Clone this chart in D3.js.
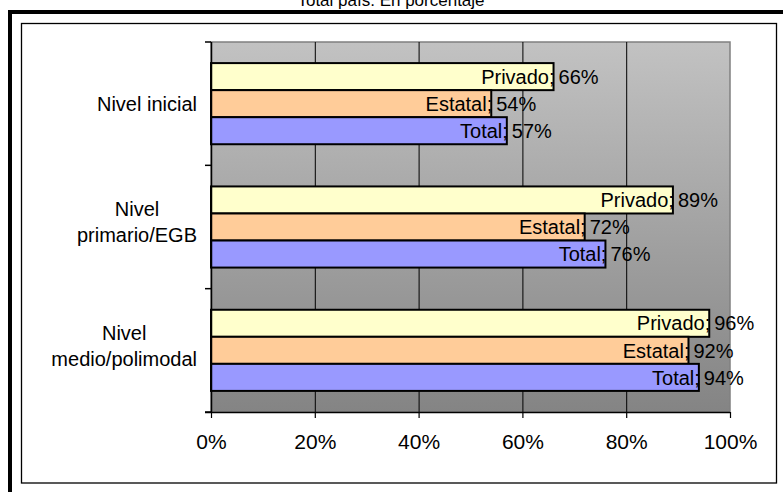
<!DOCTYPE html>
<html>
<head>
<meta charset="utf-8">
<script src="https://cdn.jsdelivr.net/npm/d3@7"></script>
<style>
  html, body { margin: 0; padding: 0; background: #fff; }
  svg { display: block; font-family: "Liberation Sans", Arial, sans-serif; }
</style>
</head>
<body>
<svg id="chart" width="783" height="492"></svg>
<script>
// Data
const categories = ["Nivel inicial", "Nivel primario/EGB", "Nivel medio/polimodal"];
const categoryLines = [["Nivel inicial"], ["Nivel", "primario/EGB"], ["Nivel", "medio/polimodal"]];
const series = ["Privado", "Estatal", "Total"];
const privado = [0.66, 0.89, 0.96];
const estatal = [0.54, 0.72, 0.92];
const total = [0.57, 0.76, 0.94];
const xTicks = [0, 0.2, 0.4, 0.6, 0.8, 1];
const title = "Total país. En porcentaje";

const colors = { Privado: "#ffffcc", Estatal: "#ffcc99", Total: "#9999ff" };
const values = { Privado: privado, Estatal: estatal, Total: total };

const svg = d3.select("#chart");

// frames
svg.append("rect")
  .attr("x", 10).attr("y", 12).attr("width", 800).attr("height", 500)
  .attr("fill", "none").attr("stroke", "#000").attr("stroke-width", 4);
svg.append("rect")
  .attr("x", 21.5).attr("y", 23.5).attr("width", 755).attr("height", 459.5)
  .attr("fill", "#fff").attr("stroke", "#000").attr("stroke-width", 1.3);

svg.append("text")
  .attr("x", 391).attr("y", 6)
  .attr("text-anchor", "middle")
  .attr("font-size", 17)
  .text(title);

const plot = { left: 211, right: 730, top: 42, bottom: 412 };

const x = d3.scaleLinear().domain([0, 1]).range([plot.left, plot.right]);
const y0 = d3.scaleBand().domain(categories).range([plot.top, plot.bottom]);
const y1 = d3.scaleBand().domain(series).range([0, y0.bandwidth()])
  .paddingInner(0).paddingOuter(0.78);

// background gradient
const grad = svg.append("defs").append("linearGradient")
  .attr("id", "bg").attr("x1", 0).attr("y1", 0).attr("x2", 0).attr("y2", 1);
grad.append("stop").attr("offset", "0%").attr("stop-color", "#c2c2c2");
grad.append("stop").attr("offset", "100%").attr("stop-color", "#848484");

svg.append("rect")
  .attr("x", plot.left).attr("y", plot.top)
  .attr("width", plot.right - plot.left).attr("height", plot.bottom - plot.top)
  .attr("fill", "url(#bg)")
  .attr("stroke", "#808080").attr("stroke-width", 1.5);

// gridlines
svg.append("g")
  .selectAll("line")
  .data(xTicks.slice(1, -1))
  .join("line")
  .attr("x1", d => x(d) + 0.5).attr("x2", d => x(d) + 0.5)
  .attr("y1", plot.top).attr("y2", plot.bottom)
  .attr("stroke", "#000").attr("stroke-width", 1);

// bars
const groups = svg.append("g")
  .selectAll("g")
  .data(categories)
  .join("g")
  .attr("transform", d => `translate(0,${y0(d)})`);

const barData = (c, i) => series.map(s => ({ s, v: values[s][i] }));

groups.selectAll("rect")
  .data(barData)
  .join("rect")
  .attr("x", x(0))
  .attr("y", d => y1(d.s))
  .attr("width", d => x(d.v) - x(0))
  .attr("height", y1.bandwidth())
  .attr("fill", d => colors[d.s])
  .attr("stroke", "#000").attr("stroke-width", 2);

// data labels
groups.selectAll("text.name")
  .data(barData)
  .join("text")
  .attr("class", "name")
  .attr("x", d => x(d.v) + 1)
  .attr("y", d => y1(d.s) + y1.bandwidth() / 2)
  .attr("dy", "0.36em")
  .attr("text-anchor", "end")
  .attr("font-size", 20)
  .text(d => d.s + ";");

groups.selectAll("text.val")
  .data(barData)
  .join("text")
  .attr("class", "val")
  .attr("x", d => x(d.v) + 5)
  .attr("y", d => y1(d.s) + y1.bandwidth() / 2)
  .attr("dy", "0.36em")
  .attr("text-anchor", "start")
  .attr("font-size", 20)
  .text(d => d3.format(".0%")(d.v));

// left axis
svg.append("line")
  .attr("x1", plot.left + 0.5).attr("x2", plot.left + 0.5)
  .attr("y1", plot.top).attr("y2", plot.bottom)
  .attr("stroke", "#000").attr("stroke-width", 1.5);
const bounds = categories.map(c => y0(c)).concat([y0(categories[categories.length - 1]) + y0.bandwidth()]);
svg.append("g")
  .selectAll("line")
  .data(bounds)
  .join("line")
  .attr("x1", plot.left - 6).attr("x2", plot.left)
  .attr("y1", d => d).attr("y2", d => d)
  .attr("stroke", "#000").attr("stroke-width", 1.5);

// category labels
const catG = svg.append("g");
categories.forEach((c, i) => {
  const lines = categoryLines[i];
  const t = catG.append("text").attr("font-size", 20).attr("text-anchor", "middle");
  const cy = y0(c) + y0.bandwidth() / 2 - (lines.length > 1 ? 5 : 0);
  const lh = 26;
  const spans = lines.map((l, j) => t.append("tspan")
    .attr("y", cy + (j - (lines.length - 1) / 2) * lh)
    .attr("dy", "0.36em")
    .text(l));
  const maxW = d3.max(spans, s => s.node().getComputedTextLength());
  spans.forEach(s => s.attr("x", 197 - maxW / 2));
});

// bottom axis
const xAxis = svg.append("g")
  .attr("transform", `translate(0,${plot.bottom})`)
  .call(d3.axisBottom(x).tickValues(xTicks).tickFormat(d3.format(".0%"))
    .tickSize(6).tickPadding(16).tickSizeOuter(0));
xAxis.select(".domain").attr("stroke", "#000").attr("stroke-width", 1.5)
  .attr("d", `M${plot.left - 6},0.5H${plot.right}`);
xAxis.selectAll(".tick line").attr("stroke", "#000").attr("stroke-width", 1.2);
xAxis.selectAll(".tick text")
  .attr("font-size", 21)
  .attr("font-family", "Liberation Sans, Arial, sans-serif")
  .attr("fill", "#000");
</script>
</body>
</html>
